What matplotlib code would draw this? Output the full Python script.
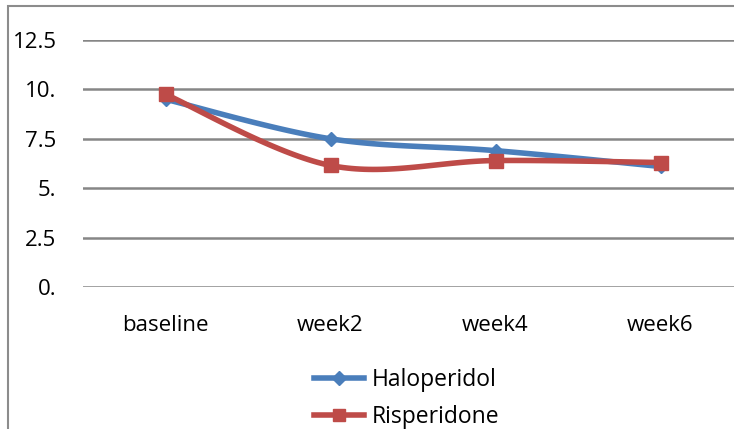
import matplotlib
matplotlib.use('Agg')
import matplotlib.pyplot as plt
from matplotlib.lines import Line2D
from matplotlib.patches import Rectangle
import numpy as np

# scores per visit
visits = ['baseline', 'week2', 'week4', 'week6']
haloperidol = [9.5, 7.5, 6.9, 6.1]
risperidone = [9.75, 6.15, 6.4, 6.3]
y_ticks = [0, 2.5, 5, 7.5, 10, 12.5]
y_labels = ['0.', '2.5', '5.', '7.5', '10.', '12.5']

blue = '#4a7ebb'
red = '#be4b48'
grid_gray = '#868686'


def smooth(xs, ys, steps=40):
    # spreadsheet-style smoothed line: cubic bezier through each pair of points
    pts = np.column_stack([xs, ys]).astype(float)
    padded = np.vstack([pts[0], pts, pts[-1]])
    out = []
    t = np.linspace(0, 1, steps)[:, None]
    for i in range(len(pts) - 1):
        p0 = padded[i + 1]
        p3 = padded[i + 2]
        c1 = p0 + (padded[i + 2] - padded[i]) / 6
        c2 = p3 - (padded[i + 3] - padded[i + 1]) / 6
        seg = ((1 - t) ** 3) * p0 + 3 * ((1 - t) ** 2) * t * c1 + 3 * (1 - t) * t ** 2 * c2 + t ** 3 * p3
        out.append(seg)
    out = np.vstack(out)
    return out[:, 0], out[:, 1]


def main():
    plt.rcParams['font.family'] = ['Open Sans', 'DejaVu Sans']
    fig = plt.figure(figsize=(7.34, 4.29), dpi=100)
    ax = fig.add_axes([83 / 734, 142 / 429, 660 / 734, 247 / 429])

    x = np.arange(len(visits))
    for ys, col, mk, ms in [(haloperidol, blue, 'D', 7.5), (risperidone, red, 's', 10)]:
        sx, sy = smooth(x, ys)
        ax.plot(sx, sy, color=col, lw=4, solid_capstyle='round', zorder=3)
        ax.plot(x, ys, linestyle='none', marker=mk, ms=ms, color=col, zorder=4)

    ax.set_xlim(-0.5, 3.5)
    ax.set_ylim(0, 12.5)
    ax.set_yticks(y_ticks)
    ax.set_yticklabels(y_labels)
    ax.set_xticks(x)
    ax.set_xticklabels(visits)
    ax.tick_params(axis='y', length=0, pad=19, labelsize=16)
    ax.tick_params(axis='x', length=0, pad=20, labelsize=16)
    for yv in y_ticks:
        ax.axhline(yv, color=grid_gray, lw=1.8, zorder=1)
    for s in ax.spines.values():
        s.set_visible(False)
    ax.patch.set_alpha(0)

    # outer chart border
    fig.patches.append(Rectangle((8 / 734, -0.1), 1.0, 0.1 + 423 / 429, transform=fig.transFigure,
                                 fill=False, edgecolor='#8c8c8c', lw=1.5))

    handles = [Line2D([], [], color=blue, lw=4, marker='D', ms=7),
               Line2D([], [], color=red, lw=4, marker='s', ms=9)]
    fig.legend(handles, ['Haloperidol', 'Risperidone'], loc='upper left',
               bbox_to_anchor=(314 / 734, 0.142), frameon=False, fontsize=16.5,
               handlelength=2.2, handletextpad=0.3, labelspacing=0.55,
               borderpad=0, borderaxespad=0)

    plt.savefig('out.png', dpi=100)


if __name__ == '__main__':
    main()
